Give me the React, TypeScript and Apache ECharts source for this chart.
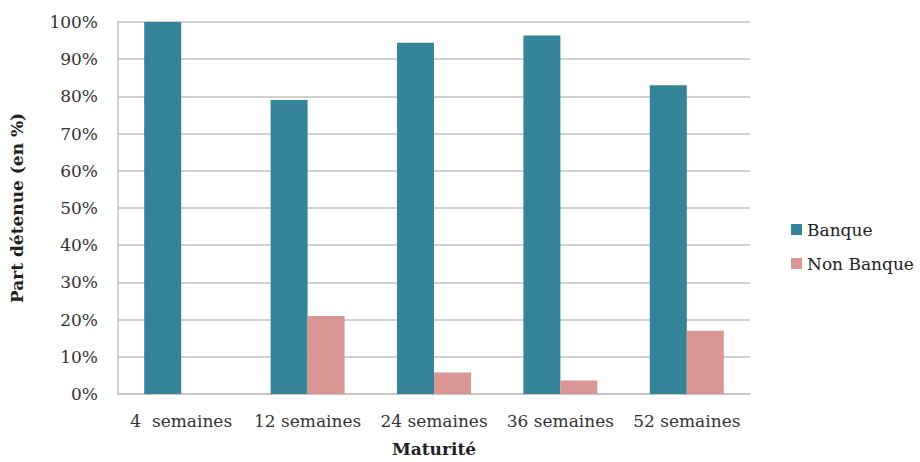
import React, { useEffect, useRef } from "react";
import * as echarts from "echarts";

const categories = ["4  semaines", "12 semaines", "24 semaines", "36 semaines", "52 semaines"];
const banque = [100, 79, 94.4, 96.4, 83];
const nonBanque = [0, 21, 5.8, 3.6, 17];
const seriesNames = ["Banque", "Non Banque"];

const FONT = "'DejaVu Serif', serif";

export default function App() {
  const ref = useRef<HTMLDivElement>(null);
  useEffect(() => {
    if (!ref.current) return;
    const chart = echarts.init(ref.current, null, { renderer: "svg" });
    chart.setOption({
      animation: false,
      backgroundColor: "#ffffff",
      textStyle: { fontFamily: FONT },
      grid: { left: 114, right: 170, top: 22, bottom: 65, containLabel: false },
      legend: {
        orient: "vertical",
        left: 786,
        top: 216,
        itemWidth: 11,
        itemHeight: 11,
        itemGap: 17,
        icon: "rect",
        textStyle: { fontFamily: FONT, fontSize: 17, color: "#222" },
        data: seriesNames,
      },
      xAxis: {
        type: "category",
        data: categories,
        name: "Maturité",
        nameLocation: "middle",
        nameGap: 46,
        nameTextStyle: { fontFamily: FONT, fontSize: 17, fontWeight: "bold", color: "#222" },
        axisLine: { lineStyle: { color: "#c0c0c0", width: 1.5 } },
        axisTick: { show: false },
        axisLabel: { interval: 0, fontFamily: FONT, fontSize: 17, color: "#333", margin: 18 },
      },
      yAxis: {
        type: "value",
        min: 0,
        max: 100,
        interval: 10,
        name: "Part détenue (en %)",
        nameLocation: "middle",
        nameGap: 93,
        nameTextStyle: { fontFamily: FONT, fontSize: 17, fontWeight: "bold", color: "#222" },
        axisLine: { show: true, lineStyle: { color: "#c0c0c0", width: 1.5 } },
        axisTick: { show: false },
        splitLine: { lineStyle: { color: "#c0c0c0", width: 1.5 } },
        axisLabel: { formatter: "{value}%", fontFamily: FONT, fontSize: 17, color: "#333", margin: 20 },
      },
      series: [
        {
          name: seriesNames[0],
          type: "bar",
          data: banque,
          barWidth: 37,
          barGap: "0%",
          itemStyle: { color: "#35849A" },
        },
        {
          name: seriesNames[1],
          type: "bar",
          data: nonBanque,
          barWidth: 37,
          barGap: "0%",
          itemStyle: { color: "#D99694" },
        },
      ],
    });
    return () => chart.dispose();
  }, []);
  return (
    <div
      ref={ref}
      style={{ position: "absolute", left: 0, top: 0, width: 920, height: 462 }}
    />
  );
}
